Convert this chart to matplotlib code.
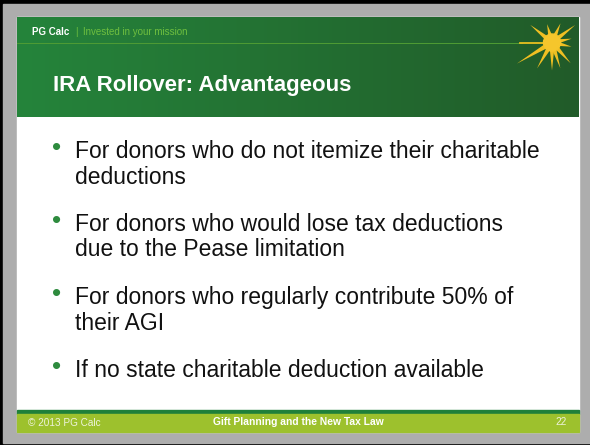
import numpy as np
import matplotlib
matplotlib.use("Agg")
import matplotlib.pyplot as plt
from matplotlib.colors import LinearSegmentedColormap
from matplotlib.patches import Rectangle, Polygon

plt.rcParams['font.family'] = ['Liberation Sans', 'DejaVu Sans']

# slide content
brand = "PG Calc"
tagline = "Invested in your mission"
title = "IRA Rollover: Advantageous"
bullets = [
    ["For donors who do not itemize their charitable", "deductions"],
    ["For donors who would lose tax deductions", "due to the Pease limitation"],
    ["For donors who regularly contribute 50% of", "their AGI"],
    ["If no state charitable deduction available"],
]
footer_left = "\u00a9 2013 PG Calc"
footer_mid = "Gift Planning and the New Tax Law"
footer_right = "22"

# sunburst logo: ray angles (deg, 0 = right, ccw) and lengths in px
star_angles = [141, 105, 66, 37, 11, -12, -48, -72, -90, -120, -149]
star_lengths = [28, 19, 21, 29, 20, 20, 28, 27, 28, 30, 41]

W, H = 590, 445
fig = plt.figure(figsize=(5.9, 4.45), dpi=100)
ax = fig.add_axes([0, 0, 1, 1])

# outer frame
fig.patch.set_facecolor('#000000')
ax.add_patch(Rectangle((3, 4), W - 3, H - 6, color='#adadad', zorder=0))

# slide body
L, R, T, B = 17, 579, 17, 432
ax.add_patch(Rectangle((L, T), R - L, B - T, color='white', zorder=1))

# header with horizontal gradient
cmap = LinearSegmentedColormap.from_list('hdr', ['#25843b', '#215b29'])
grad = np.linspace(0, 1, 256).reshape(1, -1)
ax.imshow(grad, cmap=cmap, extent=[L, R, 117, T], aspect='auto', zorder=2)
ax.set_xlim(0, W)
ax.set_ylim(H, 0)
ax.axis('off')

# thin line under the brand row, fading into the sunburst
ax.plot([L, 522], [42.5, 42.5], color='#4f9c34', lw=0.7, zorder=3)
ax.plot([520, 548], [42.5, 42.5], color='#e8c020', lw=1.3, zorder=3)

# sunburst
cx, cy = 552, 42.5
for a, ln in zip(star_angles, star_lengths):
    th = np.deg2rad(a)
    ux, uy = np.cos(th), -np.sin(th)
    px, py = -uy, ux
    hw = 2.6
    tri = [(cx + 3 * ux + hw * px, cy + 3 * uy + hw * py),
           (cx + ln * ux, cy + ln * uy),
           (cx + 3 * ux - hw * px, cy + 3 * uy - hw * py)]
    ax.add_patch(Polygon(tri, closed=True, color='#f0bf22', lw=0, zorder=4))
ax.add_patch(plt.Circle((cx, cy), 8.5, color='#f5c62c', zorder=5))

# brand row
ax.text(32, 35, brand, color='white', fontsize=7, fontweight='bold',
        va='baseline', zorder=6)
ax.text(75, 35, "|", color='#6fbf3f', fontsize=7, va='baseline', zorder=6)
ax.text(83, 35, tagline, color='#6fbf3f', fontsize=7, va='baseline', zorder=6)

# title
ax.text(53, 91, title, color='white', fontsize=16, fontweight='bold',
        va='baseline', zorder=6)

# bullets
y0, para_gap, line_gap = 158, 73, 25.5
for i, lines in enumerate(bullets):
    y = y0 + i * para_gap
    ax.text(57, y - 3, "\u2022", color='#2e8b3e', fontsize=19,
            ha='center', va='baseline', zorder=6)
    for j, line in enumerate(lines):
        ax.text(75, y + j * line_gap, line, color='#111111', fontsize=16.5,
                va='baseline', zorder=6)

# footer
ax.add_patch(Rectangle((L, 410), R - L, 4, color='#1f803a', zorder=2))
ax.add_patch(Rectangle((L, 414), R - L, B - 414, color='#9dc12d', zorder=2))
ax.text(28, 423, footer_left, color='#eef3dc', fontsize=7.2, va='center', zorder=6)
ax.text((L + R) / 2, 422, footer_mid, color='white', fontsize=7.4,
        fontweight='bold', ha='center', va='center', zorder=6)
ax.text(561, 422, footer_right, color='#eef3dc', fontsize=7.2,
        ha='center', va='center', zorder=6)

fig.savefig('out.png', dpi=100, facecolor=fig.get_facecolor())
